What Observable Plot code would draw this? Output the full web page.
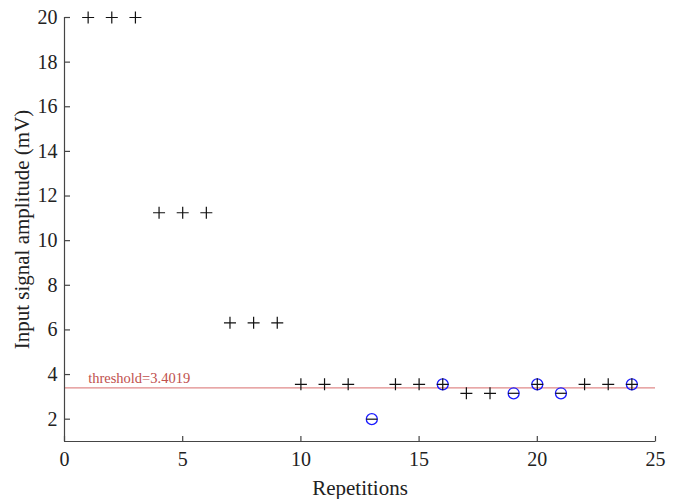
<!DOCTYPE html>
<html>
<head>
<meta charset="utf-8">
<script src="https://cdn.jsdelivr.net/npm/d3@7"></script>
<script src="https://cdn.jsdelivr.net/npm/@observablehq/plot@0.6"></script>
<style>
  html, body { margin: 0; padding: 0; background: #fff; }
  #chart svg, #chart svg text { font-family: "Liberation Serif", "Times New Roman", Times, serif !important; }
</style>
</head>
<body>
<div id="chart"></div>
<script>
const repetitions = [1,2,3,4,5,6,7,8,9,10,11,12,13,14,15,16,17,18,19,20,21,22,23,24];
const amplitudes = [20,20,20,11.25,11.25,11.25,6.32,6.32,6.32,3.56,3.56,3.56,2.0,3.56,3.56,3.56,3.16,3.16,3.16,3.56,3.16,3.56,3.56,3.56];
const responses = ["none","none","none","none","none","none","none","none","none","none","none","none","miss","none","none","hit","none","none","miss","hit","miss","none","none","hit"];
const threshold = 3.4019;
const xTicks = [0,5,10,15,20,25];
const yTicks = [2,4,6,8,10,12,14,16,18,20];

const data = repetitions.map((r, i) => ({rep: r, amp: amplitudes[i], resp: responses[i]}));

const plusSym = {draw(ctx, size) {
  const r = Math.sqrt(size / Math.PI);
  ctx.moveTo(-r, 0); ctx.lineTo(r, 0);
  ctx.moveTo(0, -r); ctx.lineTo(0, r);
}};
const minusSym = {draw(ctx, size) {
  const r = Math.sqrt(size / Math.PI);
  ctx.moveTo(-r, 0); ctx.lineTo(r, 0);
}};
// inward tick marks (MATLAB style)
const tickUp = {draw(ctx, size) {
  const r = Math.sqrt(size / Math.PI);
  ctx.moveTo(0, 0); ctx.lineTo(0, -r);
}};
const tickRight = {draw(ctx, size) {
  const r = Math.sqrt(size / Math.PI);
  ctx.moveTo(0, 0); ctx.lineTo(r, 0);
}};

const axisColor = "#454545";
const font = "Liberation Serif";

const chart = Plot.plot({
  width: 677,
  height: 499,
  marginLeft: 64,
  marginRight: 22,
  marginTop: 17,
  marginBottom: 58,
  style: {fontFamily: font, background: "#fff"},
  x: {domain: [0, 25], axis: null},
  y: {domain: [1, 20], axis: null},
  marks: [
    Plot.ruleY([threshold], {x1: 0, x2: 25, stroke: "#e08a8a", strokeWidth: 1.2}),
    Plot.text([`threshold=${threshold}`], {x: 1, y: threshold, dy: -10, textAnchor: "start", fill: "#c0504d", fontSize: 14.5, fontFamily: font}),
    Plot.ruleX([0], {y1: 1, y2: 20, stroke: axisColor, strokeWidth: 1.2}),
    Plot.ruleY([1], {x1: 0, x2: 25, stroke: axisColor, strokeWidth: 1.2}),
    Plot.dot(xTicks, {x: d => d, y: 1, symbol: tickUp, r: 5.5, stroke: axisColor, strokeWidth: 1.2, fill: "none"}),
    Plot.dot(yTicks, {x: 0, y: d => d, symbol: tickRight, r: 5.5, stroke: axisColor, strokeWidth: 1.2, fill: "none"}),
    Plot.axisX({ticks: xTicks, tickSize: 0, tickPadding: 10, fontSize: 20, fill: "#222", label: null, fontFamily: font}),
    Plot.axisY({ticks: yTicks, tickSize: 0, tickPadding: 7, fontSize: 20, fill: "#222", label: null, fontFamily: font}),
    Plot.text(["Repetitions"], {frameAnchor: "bottom", dy: 47, lineAnchor: "middle", fontSize: 21, fill: "#222", fontFamily: font}),
    Plot.text(["Input signal amplitude (mV)"], {frameAnchor: "left", dx: -42, rotate: -90, textAnchor: "middle", lineAnchor: "middle", fontSize: 21, fill: "#222", fontFamily: font}),
    Plot.dot(data.filter(d => d.resp !== "none"), {x: "rep", y: "amp", r: 5.5, stroke: "#1a1aff", strokeWidth: 1.3, fill: "none"}),
    Plot.dot(data.filter(d => d.resp !== "miss"), {x: "rep", y: "amp", symbol: plusSym, r: 6, stroke: "#111", strokeWidth: 1.2, fill: "none"}),
    Plot.dot(data.filter(d => d.resp === "miss"), {x: "rep", y: "amp", symbol: minusSym, r: 5.5, stroke: "#111", strokeWidth: 1.2, fill: "none"})
  ]
});
document.getElementById("chart").appendChild(chart);
</script>
</body>
</html>
